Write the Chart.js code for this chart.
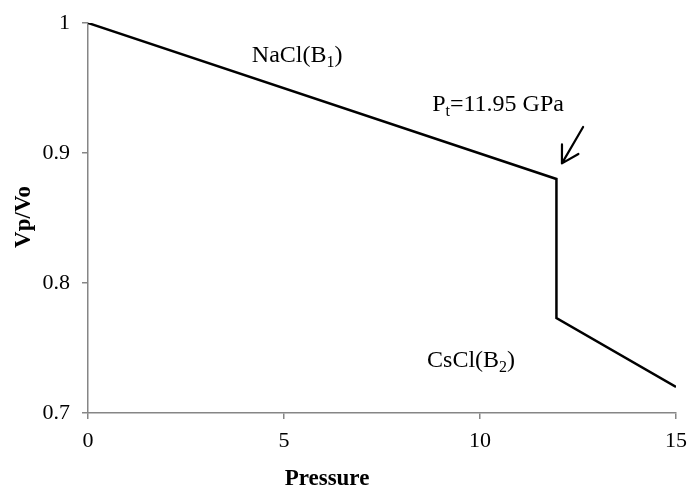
<!DOCTYPE html>
<html>
<head>
<meta charset="utf-8">
<script src="https://cdn.jsdelivr.net/npm/chart.js@4/dist/chart.umd.min.js"></script>
<style>
  html, body { margin: 0; padding: 0; background: #fff; }
  #wrap { width: 690px; height: 488px; }
</style>
</head>
<body>
<div id="wrap"><canvas id="chart"></canvas></div>
<script>
// Compression curve: NaCl(B1) -> CsCl(B2) transition at 11.95 GPa
const pressure = [0, 11.95, 11.95, 15];
const volumeRatio = [1, 0.88, 0.773, 0.72];
const xTicks = [0, 5, 10, 15];
const yTicks = [0.7, 0.8, 0.9, 1];

// label anchors in data units (left edge, baseline)
const labelNaCl = { x: 4.18, y: 0.970 };
const labelPt = { x: 8.78, y: 0.9323 };
const labelCsCl = { x: 8.65, y: 0.7354 };
const arrowFrom = { x: 12.63, y: 0.920 };
const arrowTo = { x: 12.09, y: 0.892 };

const SERIF = '"Liberation Serif", "Times New Roman", serif';
const AXIS_GREY = '#868686';

// draws text with a subscript part: [[text, isSub], ...]
function drawRich(ctx, parts, x, y, size) {
    let cx = x;
    parts.forEach(([txt, sub]) => {
        const s = sub ? Math.round(size * 0.65) : size;
        ctx.font = s + 'px ' + SERIF;
        ctx.fillText(txt, cx, sub ? y + size * 0.22 : y);
        cx += ctx.measureText(txt).width;
    });
}

const annotations = {
    id: 'annotations',
    afterDatasetsDraw(chart) {
        const ctx = chart.ctx;
        const xs = chart.scales.x;
        const ys = chart.scales.y;
        const area = chart.chartArea;
        ctx.save();
        ctx.fillStyle = '#000';
        ctx.textBaseline = 'alphabetic';
        ctx.textAlign = 'left';

        drawRich(ctx, [['NaCl(B', false], ['1', true], [')', false]],
            xs.getPixelForValue(labelNaCl.x), ys.getPixelForValue(labelNaCl.y), 24);
        drawRich(ctx, [['P', false], ['t', true], ['=11.95 GPa', false]],
            xs.getPixelForValue(labelPt.x), ys.getPixelForValue(labelPt.y), 24);
        drawRich(ctx, [['CsCl(B', false], ['2', true], [')', false]],
            xs.getPixelForValue(labelCsCl.x), ys.getPixelForValue(labelCsCl.y), 24);

        // arrow
        const x1 = xs.getPixelForValue(arrowFrom.x), y1 = ys.getPixelForValue(arrowFrom.y);
        const x2 = xs.getPixelForValue(arrowTo.x), y2 = ys.getPixelForValue(arrowTo.y);
        ctx.strokeStyle = '#000';
        ctx.lineWidth = 2.2;
        ctx.lineCap = 'round';
        ctx.beginPath();
        ctx.moveTo(x1, y1);
        ctx.lineTo(x2, y2);
        const ang = Math.atan2(y1 - y2, x1 - x2);
        const len = 19;
        [-Math.PI / 6, Math.PI / 6].forEach(d => {
            ctx.moveTo(x2, y2);
            ctx.lineTo(x2 + len * Math.cos(ang + d), y2 + len * Math.sin(ang + d));
        });
        ctx.stroke();

        // axis titles
        ctx.font = 'bold 23px ' + SERIF;
        ctx.textAlign = 'center';
        ctx.fillText('Pressure', 327, 485);
        ctx.translate(30, 217);
        ctx.rotate(-Math.PI / 2);
        ctx.fillText('Vp/Vo', 0, 0);
        ctx.restore();
    }
};

new Chart(document.getElementById('chart'), {
    type: 'scatter',
    data: {
        datasets: [{
            data: pressure.map((p, i) => ({ x: p, y: volumeRatio[i] })),
            showLine: true,
            borderColor: '#000',
            borderWidth: 2.5,
            pointRadius: 0,
            tension: 0
        }]
    },
    options: {
        responsive: true,
        maintainAspectRatio: false,
        animation: false,
        layout: {
            padding: { top: 23, right: 14, bottom: 0, left: 0 }
        },
        plugins: {
            legend: { display: false },
            tooltip: { enabled: false }
        },
        scales: {
            x: {
                type: 'linear',
                min: 0,
                max: 15,
                afterFit: s => { s.height = 75; s.paddingLeft = 0; s.paddingRight = 0; },
                afterBuildTicks: s => { s.ticks = xTicks.map(v => ({ value: v })); },
                border: { display: true, color: AXIS_GREY, width: 1.5 },
                grid: {
                    drawOnChartArea: false,
                    drawTicks: true,
                    tickLength: 6,
                    color: AXIS_GREY,
                    lineWidth: 1.5
                },
                ticks: {
                    color: '#000',
                    padding: 9,
                    maxRotation: 0,
                    font: { family: SERIF, size: 22 }
                }
            },
            y: {
                min: 0.7,
                max: 1,
                afterFit: s => { s.width = 88; s.paddingTop = 0; s.paddingBottom = 0; },
                afterBuildTicks: s => { s.ticks = yTicks.map(v => ({ value: v })); },
                border: { display: true, color: AXIS_GREY, width: 1.5 },
                grid: {
                    drawOnChartArea: false,
                    drawTicks: true,
                    tickLength: 6,
                    color: AXIS_GREY,
                    lineWidth: 1.5
                },
                ticks: {
                    color: '#000',
                    padding: 12,
                    font: { family: SERIF, size: 22 },
                    callback: v => String(Math.round(v * 10) / 10)
                }
            }
        }
    },
    plugins: [annotations]
});
</script>
</body>
</html>
